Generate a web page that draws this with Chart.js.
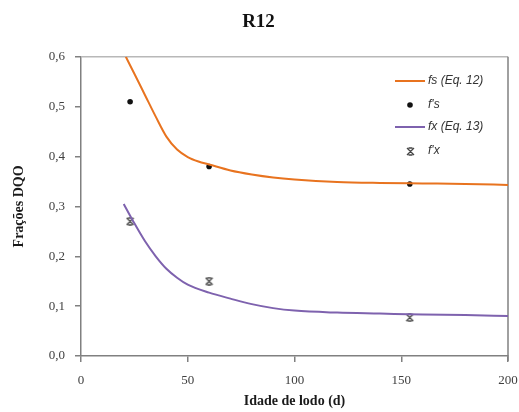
<!DOCTYPE html>
<html>
<head>
<meta charset="utf-8">
<script src="https://cdn.jsdelivr.net/npm/chart.js@4/dist/chart.umd.min.js"></script>
<style>
  html, body { margin: 0; padding: 0; background: #ffffff; }
  #wrap { width: 519px; height: 412px; }
</style>
</head>
<body>
<div id="wrap"><canvas id="c" width="519" height="412"></canvas></div>
<script>
// Sludge age (d) at which the model curves are traced
const curveDays = [21, 25, 30, 35, 40, 45, 50, 55, 60, 70, 80, 90, 100, 120, 140, 160, 180, 200];
// fs model curve (Eq. 12)
const fsCurve = [0.600, 0.566, 0.523, 0.480, 0.440, 0.414, 0.399, 0.390, 0.384, 0.372, 0.364, 0.358, 0.354, 0.349, 0.347, 0.346, 0.345, 0.343];
// fx model curve (Eq. 13)
const fxDays = [20, 25, 30, 35, 40, 45, 50, 60, 70, 80, 90, 100, 120, 140, 160, 180, 200];
const fxCurve = [0.305, 0.266, 0.230, 0.200, 0.175, 0.157, 0.143, 0.127, 0.115, 0.104, 0.096, 0.091, 0.087, 0.085, 0.083, 0.082, 0.080];
// Measured fractions
const sampleDays = [23, 60, 154];
const fsObserved = [0.51, 0.38, 0.345];
const fxObserved = [0.27, 0.15, 0.077];
// Axis ticks
const xTicks = [0, 50, 100, 150, 200];
const yTicks = [0, 0.1, 0.2, 0.3, 0.4, 0.5, 0.6];

const ORANGE = '#E8731F';
const PURPLE = '#7E62AE';

const toPoints = (xs, ys) => xs.map((x, i) => ({ x: x, y: ys[i] }));

// Asterisk-like marker for the measured fx values
function makeStarMarker(size, color) {
  const c = document.createElement('canvas');
  c.width = size; c.height = size;
  const g = c.getContext('2d');
  g.strokeStyle = color;
  g.lineWidth = 1.3;
  const m = 1, s = size - 1, mid = size / 2;
  g.beginPath();
  g.moveTo(m, m); g.lineTo(s, s);
  g.moveTo(s, m); g.lineTo(m, s);
  g.moveTo(mid - 2, m); g.lineTo(mid + 2, m);
  g.moveTo(mid - 2, s); g.lineTo(mid + 2, s);
  g.stroke();
  return c;
}
const starMarker = makeStarMarker(9, '#444444');

// Legend drawn inside the plot area, upper right
const innerLegend = {
  id: 'innerLegend',
  afterDraw(chart) {
    const ctx = chart.ctx;
    const rows = [
      { kind: 'line', color: ORANGE, text: 'fs (Eq. 12)', y: 81 },
      { kind: 'dot', color: '#111111', text: "f's", y: 105 },
      { kind: 'line', color: PURPLE, text: 'fx (Eq. 13)', y: 127 },
      { kind: 'star', color: '#444444', text: "f'x", y: 151 }
    ];
    const x0 = 395, x1 = 425, tx = 428;
    ctx.save();
    ctx.font = 'italic 12px "Liberation Sans", Arial, sans-serif';
    ctx.textBaseline = 'middle';
    rows.forEach(r => {
      if (r.kind === 'line') {
        ctx.strokeStyle = r.color;
        ctx.lineWidth = 2;
        ctx.beginPath();
        ctx.moveTo(x0, r.y); ctx.lineTo(x1, r.y);
        ctx.stroke();
      } else if (r.kind === 'dot') {
        ctx.fillStyle = r.color;
        ctx.beginPath();
        ctx.arc((x0 + x1) / 2, r.y, 2.8, 0, Math.PI * 2);
        ctx.fill();
      } else {
        ctx.drawImage(starMarker, Math.round((x0 + x1) / 2 - 4.5), Math.round(r.y - 4.5));
      }
      ctx.fillStyle = '#333333';
      ctx.fillText(r.text, tx, r.y);
    });
    ctx.restore();
  }
};

// Top and right edges of the plot frame
const frame = {
  id: 'frame',
  beforeDatasetsDraw(chart) {
    const a = chart.chartArea, ctx = chart.ctx;
    ctx.save();
    ctx.lineWidth = 1.5;
    ctx.strokeStyle = '#b8b8b8';
    ctx.beginPath();
    ctx.moveTo(a.left, a.top); ctx.lineTo(a.right, a.top);
    ctx.stroke();
    ctx.strokeStyle = '#808080';
    ctx.beginPath();
    ctx.moveTo(a.right, a.top); ctx.lineTo(a.right, a.bottom + 5);
    ctx.stroke();
    ctx.restore();
  }
};

const serif = '"Liberation Serif", "Times New Roman", serif';

new Chart(document.getElementById('c'), {
  type: 'line',
  data: {
    datasets: [
      {
        label: 'fs (Eq. 12)',
        data: toPoints(curveDays, fsCurve),
        borderColor: ORANGE,
        borderWidth: 2,
        pointRadius: 0,
        cubicInterpolationMode: 'monotone',
        fill: false
      },
      {
        label: "f's",
        data: toPoints(sampleDays, fsObserved),
        showLine: false,
        pointRadius: 2.8,
        pointBackgroundColor: '#111111',
        pointBorderWidth: 0
      },
      {
        label: 'fx (Eq. 13)',
        data: toPoints(fxDays, fxCurve),
        borderColor: PURPLE,
        borderWidth: 2,
        pointRadius: 0,
        cubicInterpolationMode: 'monotone',
        fill: false
      },
      {
        label: "f'x",
        data: toPoints(sampleDays, fxObserved),
        showLine: false,
        pointStyle: starMarker,
        pointRadius: 4.5
      }
    ]
  },
  options: {
    responsive: false,
    animation: false,
    events: [],
    layout: { padding: { left: 0, right: 2, top: 0, bottom: 0 } },
    plugins: {
      legend: { display: false },
      tooltip: { enabled: false },
      title: {
        display: true,
        text: 'R12',
        color: '#111111',
        font: { family: serif, size: 19, weight: 'bold', lineHeight: 1.2 },
        padding: { top: 11, bottom: 23 }
      }
    },
    scales: {
      x: {
        type: 'linear',
        min: 0,
        max: 200,
        afterFit(s) { s.height = 56; s.paddingLeft = 0; s.paddingRight = 11; },
        afterBuildTicks(s) { s.ticks = xTicks.map(v => ({ value: v })); },
        border: { color: '#808080', width: 1.5 },
        grid: { drawOnChartArea: false, drawTicks: true, tickLength: 6, color: '#808080', lineWidth: 1.5 },
        ticks: {
          padding: 11,
          color: '#404040',
          font: { family: serif, size: 13 },
          maxRotation: 0
        },
        title: {
          display: true,
          text: 'Idade de lodo (d)',
          color: '#1a1a1a',
          font: { family: serif, size: 14, weight: 'bold', lineHeight: 1.2 },
          padding: { top: 0, bottom: 2 }
        }
      },
      y: {
        type: 'linear',
        min: 0,
        max: 0.6,
        afterFit(s) { s.width = 81; },
        afterBuildTicks(s) { s.ticks = yTicks.map(v => ({ value: v })); },
        border: { color: '#808080', width: 1.5 },
        grid: { drawOnChartArea: false, drawTicks: true, tickLength: 6, color: '#808080', lineWidth: 1.5 },
        ticks: {
          padding: 10,
          color: '#404040',
          font: { family: serif, size: 13 },
          callback: v => Number(v).toFixed(1).replace('.', ',')
        },
        title: {
          display: true,
          text: 'Frações DQO',
          color: '#1a1a1a',
          font: { family: serif, size: 14, weight: 'bold', lineHeight: 1.2 },
          padding: { top: 11, bottom: 0 }
        }
      }
    }
  },
  plugins: [frame, innerLegend]
});
</script>
</body>
</html>
